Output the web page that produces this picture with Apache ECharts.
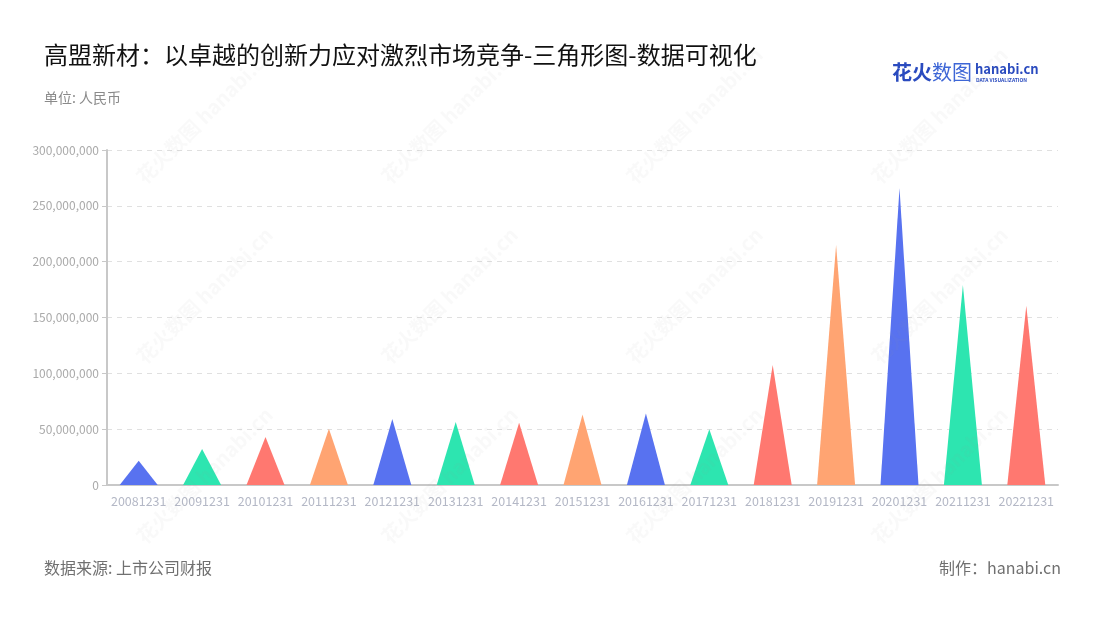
<!DOCTYPE html>
<html>
<head>
<meta charset="utf-8">
<script src="https://cdn.jsdelivr.net/npm/echarts@6/dist/echarts.min.js"></script>
<style>html,body{margin:0;padding:0;background:#fff;}#c{width:1100px;height:620px;}</style>
</head>
<body>
<div id="c"></div>
<script>
const categories = ['20081231','20091231','20101231','20111231','20121231','20131231','20141231','20151231','20161231','20171231','20181231','20191231','20201231','20211231','20221231'];
const values = [21700000, 32200000, 43000000, 50300000, 59100000, 56400000, 55800000, 63200000, 64000000, 50000000, 107500000, 215000000, 265700000, 179000000, 160600000];
const palette = ['#5872f0', '#2de5b0', '#ff7870', '#ffa472'];
const yTicks = [0, 50000000, 100000000, 150000000, 200000000, 250000000, 300000000];

const font = '"Noto Sans CJK SC", "Noto Sans", sans-serif';
const chart = echarts.init(document.getElementById('c'));
const wm = [];
const wmPos = [[140,180],[385,180],[630,180],[875,180],[140,360],[385,360],[630,360],[875,360],[140,540],[385,540],[630,540],[875,540]];
wmPos.forEach(p => {
  wm.push({type:'text', x:p[0], y:p[1], rotation: Math.PI/4, z:100, silent:true,
    style:{text:'花火数图 hanabi.cn', font:'bold 20px ' + font, fill:'rgba(150,150,150,0.06)', textAlign:'left', textVerticalAlign:'middle'}});
});
chart.setOption({
  backgroundColor: '#fff',
  textStyle: {fontFamily: font},
  title: [
    {text: '高盟新材：以卓越的创新力应对激烈市场竞争-三角形图-数据可视化', left: 39, top: 38,
     textStyle: {fontSize: 24, fontWeight: 'normal', color: '#111111', fontFamily: font}},
    {text: '单位: 人民币', left: 39, top: 86, textStyle: {fontSize: 14, fontWeight: 'normal', color: '#8a8a8a', fontFamily: font}},
    {text: '数据来源: 上市公司财报', left: 39, top: 555, textStyle: {fontSize: 16, fontWeight: 'normal', color: '#707070', fontFamily: font}},
    {text: '制作：hanabi.cn', right: 34, top: 555, textStyle: {fontSize: 16, fontWeight: 'normal', color: '#707070', fontFamily: font}}
  ],
  graphic: [
    {type:'text', left: 892, top: 62, style:{text:'花火', font:'bold 20px ' + font, fill:'#2a4bbf'}},
    {type:'text', left: 932, top: 62, style:{text:'数图', font:'20px ' + font, fill:'#3d66d6'}},
    {type:'text', left: 975, top: 63, style:{text:'hanabi.cn', font:'bold 13px ' + font, fill:'#2a4bbf'}},
    {type:'text', left: 976, top: 78, style:{text:'DATA VISUALIZATION', font:'bold 5px ' + font, fill:'#2a4bbf'}}
  ].concat(wm),
  grid: {left: 107, right: 42, top: 150, bottom: 135},
  xAxis: {
    type: 'category', data: categories,
    axisLine: {lineStyle: {color: '#c8c8c8', width: 2}},
    axisTick: {alignWithLabel: true, lineStyle: {color: '#c8c8c8'}},
    axisLabel: {color: '#b4b8c6', fontSize: 12.5, margin: 10, interval: 0, fontFamily: font}
  },
  yAxis: {
    type: 'value', min: 0, max: 300000000, interval: 50000000,
    axisLine: {show: true, lineStyle: {color: '#c8c8c8', width: 2}},
    axisTick: {show: true, lineStyle: {color: '#c8c8c8'}},
    axisLabel: {color: '#aaaaaa', fontSize: 12, fontFamily: font,
      formatter: v => v.toLocaleString('en-US')},
    splitLine: {lineStyle: {color: '#e0e0e0', type: [5, 5]}}
  },
  series: [{
    type: 'pictorialBar',
    symbol: 'path://M0,10 L5,0 L10,10 Z',
    barWidth: 38,
    data: values.map((v, i) => ({value: v, itemStyle: {color: palette[i % 4]}})),
    z: 10
  }]
});
</script>
</body>
</html>
